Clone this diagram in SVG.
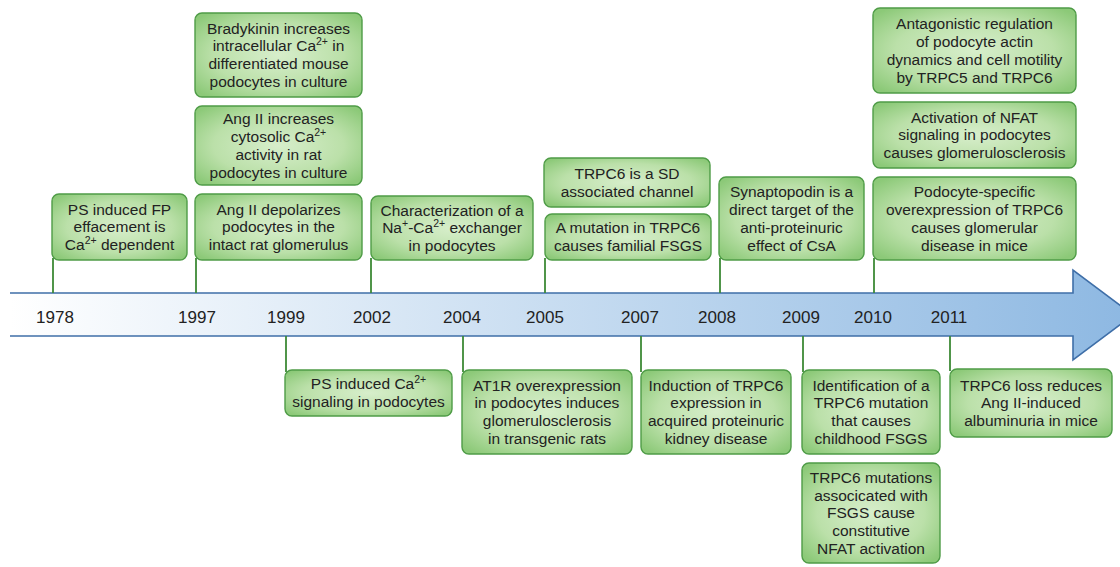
<svg xmlns="http://www.w3.org/2000/svg" width="1120" height="567" viewBox="0 0 1120 567">
<style>
.box{fill:url(#gbox);stroke:#4f9c47;stroke-width:1.4}
.t{font-family:"Liberation Sans",Arial,sans-serif;font-size:15.5px;fill:#222;text-anchor:middle}
.yr{font-family:"Liberation Sans",Arial,sans-serif;font-size:17px;fill:#222;text-anchor:middle}
.ln{stroke:#3d8a36;stroke-width:1.8;fill:none}
.sup{font-size:10.5px}
</style>
<defs>
<radialGradient id="gbox" cx="50%" cy="50%" r="65%">
<stop offset="0" stop-color="#d7eecb"/>
<stop offset="0.6" stop-color="#bbe0a9"/>
<stop offset="1" stop-color="#8cc978"/>
</radialGradient>
<linearGradient id="garr" x1="0" y1="0" x2="1" y2="0">
<stop offset="0" stop-color="#ffffff"/>
<stop offset="1" stop-color="#8db8e2"/>
</linearGradient>
</defs>
<g id="timeline">
<path d="M10,293 H1073 V270 L1133,315 L1073,360 V336 H10" fill="url(#garr)" stroke="#3f6fa8" stroke-width="1.6"/>
<text class="yr" x="55" y="323">1978</text>
<text class="yr" x="197" y="323">1997</text>
<text class="yr" x="286" y="323">1999</text>
<text class="yr" x="372" y="323">2002</text>
<text class="yr" x="462" y="323">2004</text>
<text class="yr" x="545" y="323">2005</text>
<text class="yr" x="640" y="323">2007</text>
<text class="yr" x="717" y="323">2008</text>
<text class="yr" x="801" y="323">2009</text>
<text class="yr" x="873" y="323">2010</text>
<text class="yr" x="949" y="323">2011</text>
</g>
<g id="connectors">
<path class="ln" d="M53,293V258"/>
<path class="ln" d="M196,293V258"/>
<path class="ln" d="M371,293V258"/>
<path class="ln" d="M545,293V258"/>
<path class="ln" d="M720,293V258"/>
<path class="ln" d="M874,293V258"/>
<path class="ln" d="M286,336V372"/>
<path class="ln" d="M463,336V372"/>
<path class="ln" d="M641,336V372"/>
<path class="ln" d="M803,336V372"/>
<path class="ln" d="M950,336V371"/>
</g>
<g id="n1978"><rect class="box" x="52" y="194" width="135" height="66" rx="7"/>
<text class="t"><tspan x="119.5" y="214.5">PS induced FP</tspan><tspan x="119.5" y="232.3">effacement is</tspan><tspan x="119.5" y="250.1">Ca<tspan class="sup" dy="-6">2+</tspan><tspan dy="6"> dependent</tspan></tspan></text></g>
<g id="n1997a"><rect class="box" x="195" y="194" width="167" height="66" rx="7"/>
<text class="t"><tspan x="278.5" y="214.5">Ang II depolarizes</tspan><tspan x="278.5" y="232.3">podocytes in the</tspan><tspan x="278.5" y="250.1">intact rat glomerulus</tspan></text></g>
<g id="n1997b"><rect class="box" x="195" y="106" width="167" height="79" rx="7"/>
<text class="t"><tspan x="278.5" y="124.1">Ang II increases</tspan><tspan x="278.5" y="141.9">cytosolic Ca<tspan class="sup" dy="-6">2+</tspan></tspan><tspan x="278.5" y="159.7">activity in rat</tspan><tspan x="278.5" y="177.5">podocytes in culture</tspan></text></g>
<g id="n1997c"><rect class="box" x="195" y="13" width="167" height="84" rx="7"/>
<text class="t"><tspan x="278.5" y="33.6">Bradykinin increases</tspan><tspan x="278.5" y="51.4">intracellular Ca<tspan class="sup" dy="-6">2+</tspan><tspan dy="6"> in</tspan></tspan><tspan x="278.5" y="69.2">differentiated mouse</tspan><tspan x="278.5" y="87">podocytes in culture</tspan></text></g>
<g id="n2002"><rect class="box" x="371" y="196" width="162" height="64" rx="7"/>
<text class="t"><tspan x="452" y="215.5">Characterization of a</tspan><tspan x="452" y="233.3">Na<tspan class="sup" dy="-6">+</tspan><tspan dy="6">-Ca</tspan><tspan class="sup" dy="-6">2+</tspan><tspan dy="6"> exchanger</tspan></tspan><tspan x="452" y="251.1">in podocytes</tspan></text></g>
<g id="n2005a"><rect class="box" x="545" y="214" width="166" height="46" rx="7"/>
<text class="t"><tspan x="628" y="233.4">A mutation in TRPC6</tspan><tspan x="628" y="251.2">causes familial FSGS</tspan></text></g>
<g id="n2005b"><rect class="box" x="544" y="158" width="166" height="49" rx="7"/>
<text class="t"><tspan x="627" y="178.9">TRPC6 is a SD</tspan><tspan x="627" y="196.7">associated channel</tspan></text></g>
<g id="n2008"><rect class="box" x="719" y="177" width="145" height="83" rx="7"/>
<text class="t"><tspan x="791.5" y="197.1">Synaptopodin is a</tspan><tspan x="791.5" y="214.9">direct target of the</tspan><tspan x="791.5" y="232.7">anti-proteinuric</tspan><tspan x="791.5" y="250.5">effect of CsA</tspan></text></g>
<g id="n2010a"><rect class="box" x="873" y="177" width="203" height="83" rx="7"/>
<text class="t"><tspan x="974.5" y="197.1">Podocyte-specific</tspan><tspan x="974.5" y="214.9">overexpression of TRPC6</tspan><tspan x="974.5" y="232.7">causes glomerular</tspan><tspan x="974.5" y="250.5">disease in mice</tspan></text></g>
<g id="n2010b"><rect class="box" x="873" y="102" width="203" height="66" rx="7"/>
<text class="t"><tspan x="974.5" y="122.5">Activation of NFAT</tspan><tspan x="974.5" y="140.3">signaling in podocytes</tspan><tspan x="974.5" y="158.1">causes glomerulosclerosis</tspan></text></g>
<g id="n2010c"><rect class="box" x="873" y="8" width="203" height="85" rx="7"/>
<text class="t"><tspan x="974.5" y="29.1">Antagonistic regulation</tspan><tspan x="974.5" y="46.9">of podocyte actin</tspan><tspan x="974.5" y="64.7">dynamics and cell motility</tspan><tspan x="974.5" y="82.5">by TRPC5 and TRPC6</tspan></text></g>
<g id="n1999"><rect class="box" x="285" y="370" width="167" height="46" rx="7"/>
<text class="t"><tspan x="368.5" y="389.4">PS induced Ca<tspan class="sup" dy="-6">2+</tspan></tspan><tspan x="368.5" y="407.2">signaling in podocytes</tspan></text></g>
<g id="n2004"><rect class="box" x="462" y="370" width="170" height="84" rx="7"/>
<text class="t"><tspan x="547" y="390.6">AT1R overexpression</tspan><tspan x="547" y="408.4">in podocytes induces</tspan><tspan x="547" y="426.2">glomerulosclerosis</tspan><tspan x="547" y="444">in transgenic rats</tspan></text></g>
<g id="n2007"><rect class="box" x="641" y="370" width="150" height="84" rx="7"/>
<text class="t"><tspan x="716" y="390.6">Induction of TRPC6</tspan><tspan x="716" y="408.4">expression in</tspan><tspan x="716" y="426.2">acquired proteinuric</tspan><tspan x="716" y="444">kidney disease</tspan></text></g>
<g id="n2009a"><rect class="box" x="802" y="370" width="138" height="84" rx="7"/>
<text class="t"><tspan x="871" y="390.6">Identification of a</tspan><tspan x="871" y="408.4">TRPC6 mutation</tspan><tspan x="871" y="426.2">that causes</tspan><tspan x="871" y="444">childhood FSGS</tspan></text></g>
<g id="n2009b"><rect class="box" x="802" y="463" width="138" height="100" rx="7"/>
<text class="t"><tspan x="871" y="482.7">TRPC6 mutations</tspan><tspan x="871" y="500.5">associcated with</tspan><tspan x="871" y="518.3">FSGS cause</tspan><tspan x="871" y="536.1">constitutive</tspan><tspan x="871" y="553.9">NFAT activation</tspan></text></g>
<g id="n2011"><rect class="box" x="950" y="369" width="162" height="68" rx="7"/>
<text class="t"><tspan x="1031" y="390.5">TRPC6 loss reduces</tspan><tspan x="1031" y="408.3">Ang II-induced</tspan><tspan x="1031" y="426.1">albuminuria in mice</tspan></text></g>
</svg>
